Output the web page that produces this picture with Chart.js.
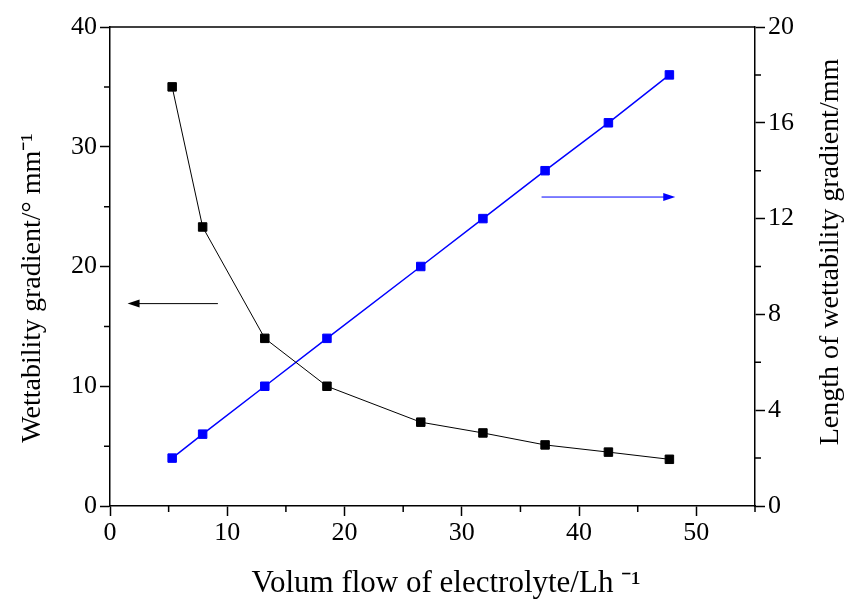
<!DOCTYPE html>
<html>
<head>
<meta charset="utf-8">
<script src="https://cdn.jsdelivr.net/npm/chart.js@4.4.0/dist/chart.umd.min.js"></script>
<style>
  html, body { margin: 0; padding: 0; background: #fff; }
  #wrap { width: 853px; height: 606px; }
</style>
</head>
<body>
<div id="wrap"><canvas id="flow-chart-id" width="853" height="606"></canvas></div>
<script>
// values
const flowRates = [5.3, 7.9, 13.2, 18.5, 26.5, 31.8, 37.1, 42.5, 47.7];
const wettabilityGradient = [35, 23.3, 14, 10, 7, 6.1, 5.1, 4.5, 3.9];
const gradientLength = [2, 3, 5, 7, 10, 12, 14, 16, 18];

// labelled (major) ticks
const xTicks = [0, 10, 20, 30, 40, 50];
const leftTicks = [0, 10, 20, 30, 40];
const rightTicks = [0, 4, 8, 12, 16, 20];

// arrows telling which axis belongs to which curve: [xFrom, xTo, y]
const leftArrow = [9.2, 1.5, 16.9];
const rightArrow = [36.8, 48.2, 12.9];

const xTitle = 'Volum flow of electrolyte/Lh ⁻¹';
const leftTitle = 'Wettability gradient/° mm⁻¹';
const rightTitle = 'Length of wettability gradient/mm';

const FONT = 'Liberation Serif, Times New Roman, serif';

function toPoints(xs, ys) {
  return xs.map((x, i) => ({ x: x, y: ys[i] }));
}

function drawArrow(ctx, x1, x2, y, color) {
  const dir = x2 > x1 ? 1 : -1;
  ctx.save();
  ctx.strokeStyle = color;
  ctx.fillStyle = color;
  ctx.lineWidth = 1;
  ctx.beginPath();
  ctx.moveTo(x1, y);
  ctx.lineTo(x2 - dir * 10, y);
  ctx.stroke();
  ctx.beginPath();
  ctx.moveTo(x2, y);
  ctx.lineTo(x2 - dir * 12, y - 4);
  ctx.lineTo(x2 - dir * 12, y + 4);
  ctx.closePath();
  ctx.fill();
  ctx.restore();
}

function drawTitle(ctx, text, x, y, size, angle) {
  ctx.save();
  ctx.translate(x, y);
  ctx.rotate(angle);
  ctx.font = size + 'px ' + FONT;
  ctx.fillStyle = '#000';
  ctx.textAlign = 'center';
  ctx.textBaseline = 'middle';
  ctx.fillText(text, 0, 0);
  ctx.restore();
}

// frame, minor ticks, arrows and axis titles
const extrasPlugin = {
  id: 'extras',
  afterDraw(chart) {
    const ctx = chart.ctx;
    const area = chart.chartArea;
    const sx = chart.scales.x;
    const sy = chart.scales.y;
    const sy1 = chart.scales.y1;

    ctx.save();
    ctx.strokeStyle = '#000';
    ctx.lineWidth = 1.5;
    ctx.beginPath();
    ctx.moveTo(area.left, area.top);
    ctx.lineTo(area.right, area.top);
    ctx.stroke();

    // minor ticks
    ctx.beginPath();
    sx.ticks.forEach(t => {
      if (xTicks.includes(t.value)) return;
      const p = sx.getPixelForValue(t.value);
      ctx.moveTo(p, area.bottom);
      ctx.lineTo(p, area.bottom + 6);
    });
    sy.ticks.forEach(t => {
      if (leftTicks.includes(t.value)) return;
      const p = sy.getPixelForValue(t.value);
      ctx.moveTo(area.left, p);
      ctx.lineTo(area.left - 6, p);
    });
    sy1.ticks.forEach(t => {
      if (rightTicks.includes(t.value)) return;
      const p = sy1.getPixelForValue(t.value);
      ctx.moveTo(area.right, p);
      ctx.lineTo(area.right + 6, p);
    });
    ctx.stroke();
    ctx.restore();

    drawArrow(ctx, sx.getPixelForValue(leftArrow[0]), sx.getPixelForValue(leftArrow[1]),
      sy.getPixelForValue(leftArrow[2]), '#000');
    drawArrow(ctx, sx.getPixelForValue(rightArrow[0]), sx.getPixelForValue(rightArrow[1]),
      sy1.getPixelForValue(rightArrow[2]), '#0000ff');

    drawTitle(ctx, xTitle, 446, 584, 31, 0);
    drawTitle(ctx, leftTitle, 33, 288, 28, -Math.PI / 2);
    drawTitle(ctx, rightTitle, 831, 252, 28, -Math.PI / 2);
  }
};

function initFlowChart() {
  const flowCtx = document.getElementById('flow-chart-id');
  if (!flowCtx) return;

  new Chart(flowCtx, {
    type: 'line',
    data: {
      datasets: [
        {
          label: 'Wettability gradient',
          data: toPoints(flowRates, wettabilityGradient),
          yAxisID: 'y',
          borderColor: '#000',
          backgroundColor: '#000',
          borderWidth: 1,
          pointStyle: 'rect',
          pointRadius: 6,
          pointBorderWidth: 1,
          fill: false,
          tension: 0
        },
        {
          label: 'Length of wettability gradient',
          data: toPoints(flowRates, gradientLength),
          yAxisID: 'y1',
          borderColor: '#0000ff',
          backgroundColor: '#0000ff',
          borderWidth: 1.5,
          pointStyle: 'rect',
          pointRadius: 6,
          pointBorderWidth: 1,
          fill: false,
          tension: 0
        }
      ]
    },
    options: {
      responsive: false,
      animation: false,
      layout: { padding: { top: 27, left: 0, right: 0, bottom: 0 } },
      plugins: {
        legend: { display: false },
        tooltip: { enabled: false }
      },
      scales: {
        x: {
          type: 'linear',
          min: 0,
          max: 55,
          afterFit: s => { s.height = 100; },
          border: { color: '#000', width: 1.5 },
          grid: {
            drawOnChartArea: false,
            tickLength: 10,
            tickWidth: 1.5,
            tickColor: c => xTicks.includes(c.tick.value) ? '#000' : 'rgba(0,0,0,0)'
          },
          ticks: {
            stepSize: 5,
            maxRotation: 0,
            padding: 2,
            color: '#000',
            font: { family: FONT, size: 26 },
            callback: v => xTicks.includes(v) ? String(v) : ''
          }
        },
        y: {
          position: 'left',
          min: 0,
          max: 40,
          afterFit: s => { s.width = 110; },
          border: { color: '#000', width: 1.5 },
          grid: {
            drawOnChartArea: false,
            tickLength: 10,
            tickWidth: 1.5,
            tickColor: c => leftTicks.includes(c.tick.value) ? '#000' : 'rgba(0,0,0,0)'
          },
          ticks: {
            stepSize: 5,
            padding: 3,
            color: '#000',
            font: { family: FONT, size: 26 },
            callback: v => leftTicks.includes(v) ? String(v) : ''
          }
        },
        y1: {
          position: 'right',
          min: 0,
          max: 20,
          afterFit: s => { s.width = 98; },
          border: { color: '#000', width: 1.5 },
          grid: {
            drawOnChartArea: false,
            tickLength: 10,
            tickWidth: 1.5,
            tickColor: c => rightTicks.includes(c.tick.value) ? '#000' : 'rgba(0,0,0,0)'
          },
          ticks: {
            stepSize: 2,
            padding: 3,
            color: '#000',
            font: { family: FONT, size: 26 },
            callback: v => rightTicks.includes(v) ? String(v) : ''
          }
        }
      }
    },
    plugins: [extrasPlugin]
  });
}

document.addEventListener('DOMContentLoaded', initFlowChart);
</script>
</body>
</html>
